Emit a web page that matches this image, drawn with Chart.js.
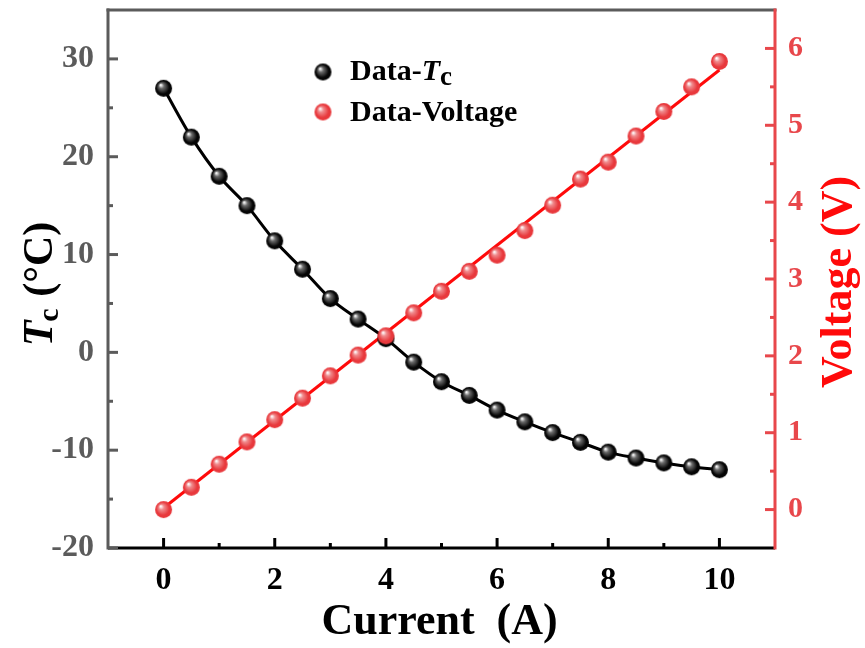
<!DOCTYPE html>
<html>
<head>
<meta charset="utf-8">
<script src="https://cdn.jsdelivr.net/npm/chart.js@4.4.1/dist/chart.umd.min.js"></script>
<style>
html,body{margin:0;padding:0;background:#fff;}
#wrap{width:865px;height:648px;}
</style>
</head>
<body>
<div id="wrap"><canvas id="c" width="865" height="648"></canvas></div>
<script>
// ---- data ----
const current = [0, 0.5, 1, 1.5, 2, 2.5, 3, 3.5, 4, 4.5, 5, 5.5, 6, 6.5, 7, 7.5, 8, 8.5, 9, 9.5, 10];
const tc = [27, 22, 18, 15, 11.4, 8.5, 5.5, 3.4, 1.4, -1.0, -3.0, -4.4, -5.9, -7.1, -8.2, -9.2, -10.2, -10.8, -11.3, -11.7, -12.0];
const voltage = [0, 0.29, 0.59, 0.88, 1.17, 1.45, 1.74, 2.01, 2.26, 2.56, 2.84, 3.10, 3.31, 3.63, 3.96, 4.30, 4.52, 4.86, 5.18, 5.50, 5.83];
const fitCurrent = [0, 10];
const fitVoltage = [0.02, 5.72];
const xTicks = [0, 2, 4, 6, 8, 10];
const tcTicks = [-20, -10, 0, 10, 20, 30];
const vTicks = [0, 1, 2, 3, 4, 5, 6];

const GRAY = '#5b5b5b';
const AXRED = '#e8474b';
const RED = '#ff0a0a';
const SERIF = "'Liberation Serif','Times New Roman',serif";

function sphere(base, mid, hi, r) {
  const s = Math.ceil(r * 2 + 2);
  const cv = document.createElement('canvas');
  cv.width = s; cv.height = s;
  const g = cv.getContext('2d');
  const c = s / 2;
  const grad = g.createRadialGradient(c - r * 0.35, c - r * 0.4, r * 0.05, c, c, r);
  grad.addColorStop(0, hi);
  grad.addColorStop(0.28, mid);
  grad.addColorStop(0.75, base);
  grad.addColorStop(1, base);
  g.fillStyle = grad;
  g.beginPath(); g.arc(c, c, r, 0, Math.PI * 2); g.fill();
  return cv;
}
const blackBall = sphere('#050505', '#6a6a6a', '#ffffff', 8.5);
const redBall = sphere('#e8383c', '#f08a8c', '#ffffff', 8.5);

const pts = (xs, ys) => xs.map((x, i) => ({x: x, y: ys[i]}));

const frame = {
  id: 'frame',
  beforeDatasetsDraw(chart) {
    const {ctx, chartArea: a, scales} = chart;
    ctx.save();
    ctx.lineCap = 'butt';
    const ln = (x1, y1, x2, y2, col, w) => {
      ctx.strokeStyle = col; ctx.lineWidth = w;
      ctx.beginPath(); ctx.moveTo(x1, y1); ctx.lineTo(x2, y2); ctx.stroke();
    };
    ln(a.left - 1.5, a.top, a.right + 1.5, a.top, GRAY, 3);
    ln(a.left, a.bottom, a.right, a.bottom, '#000', 3);
    ln(a.right, a.top - 1.5, a.right, a.bottom + 1.5, AXRED, 3);
    ln(a.left, a.top - 1.5, a.left, a.bottom + 1.5, GRAY, 3);
    xTicks.forEach((v, i) => {
      const p = scales.x.getPixelForValue(v);
      ln(p, a.bottom, p, a.bottom - 10, '#000', 3);
      if (i < xTicks.length - 1) {
        const m = scales.x.getPixelForValue((v + xTicks[i + 1]) / 2);
        ln(m, a.bottom, m, a.bottom - 5, '#000', 3);
      }
    });
    tcTicks.forEach((v, i) => {
      const p = scales.y.getPixelForValue(v);
      ln(a.left, p, a.left + 10, p, GRAY, 3);
      if (i < tcTicks.length - 1) {
        const m = scales.y.getPixelForValue((v + tcTicks[i + 1]) / 2);
        ln(a.left, m, a.left + 5, m, GRAY, 3);
      }
    });
    vTicks.forEach((v, i) => {
      const p = scales.y2.getPixelForValue(v);
      ln(a.right, p, a.right - 10, p, AXRED, 3);
      if (i < vTicks.length - 1) {
        const m = scales.y2.getPixelForValue((v + vTicks[i + 1]) / 2);
        ln(a.right, m, a.right - 5, m, AXRED, 3);
      }
    });
    ctx.restore();
  },
  afterDraw(chart) {
    const {ctx, chartArea: a} = chart;
    ctx.save();
    ctx.fillStyle = '#000';
    ctx.font = 'bold 44px ' + SERIF;
    ctx.textAlign = 'center';
    ctx.textBaseline = 'alphabetic';
    ctx.fillText('Current  (A)', (a.left + a.right) / 2 - 2, 634);

    ctx.save();
    ctx.translate(52, 284);
    ctx.rotate(-Math.PI / 2);
    ctx.textAlign = 'left';
    const fT = 'italic bold 42px ' + SERIF;
    const fc = 'bold 30px ' + SERIF;
    const fr = 'bold 42px ' + SERIF;
    ctx.font = fT; const wT = ctx.measureText('T').width;
    ctx.font = fc; const wc = ctx.measureText('c').width;
    ctx.font = fr; const wr = ctx.measureText(' (\u00B0C)').width;
    let x0 = -(wT + wc + wr) / 2;
    ctx.fillStyle = '#000';
    ctx.font = fT; ctx.fillText('T', x0, 0); x0 += wT - 1;
    ctx.font = fc; ctx.fillText('c', x0, 6); x0 += wc + 1;
    ctx.font = fr; ctx.fillText(' (\u00B0C)', x0, 0);
    ctx.restore();

    ctx.save();
    ctx.translate(851, 282);
    ctx.rotate(-Math.PI / 2);
    ctx.textAlign = 'center';
    ctx.fillStyle = RED;
    ctx.font = 'bold 44px ' + SERIF;
    ctx.fillText('Voltage (V)', 0, 0);
    ctx.restore();

    ctx.drawImage(blackBall, 323 - blackBall.width / 2, 72 - blackBall.height / 2);
    ctx.drawImage(redBall, 323 - redBall.width / 2, 112 - redBall.height / 2);
    ctx.fillStyle = '#000';
    ctx.textAlign = 'left';
    const lf = 'bold 30px ' + SERIF;
    ctx.font = lf;
    ctx.fillText('Data-', 350, 80);
    let lx = 350 + ctx.measureText('Data-').width;
    ctx.font = 'italic bold 30px ' + SERIF;
    ctx.fillText('T', lx, 80);
    lx += ctx.measureText('T').width;
    ctx.font = 'bold 27px ' + SERIF;
    ctx.fillText('c', lx, 85);
    ctx.font = lf;
    ctx.fillText('Data-Voltage', 350, 121);
    ctx.restore();
  }
};

const zeroPad = s => { s.paddingTop = 0; s.paddingBottom = 0; s.paddingLeft = 0; s.paddingRight = 0; };

new Chart(document.getElementById('c'), {
  data: {
    datasets: [
      {type: 'scatter', label: 'Data-Voltage', data: pts(current, voltage), yAxisID: 'y2',
        pointStyle: redBall, pointRadius: 8.5, pointHoverRadius: 8.5, showLine: false},
      {type: 'scatter', label: 'Data-Tc', data: pts(current, tc), yAxisID: 'y',
        pointStyle: blackBall, pointRadius: 8.5, pointHoverRadius: 8.5, showLine: false},
      {type: 'line', label: 'fitV', data: pts(fitCurrent, fitVoltage), yAxisID: 'y2',
        borderColor: RED, borderWidth: 3, pointRadius: 0, fill: false},
      {type: 'line', label: 'fitTc', data: pts(current, tc), yAxisID: 'y',
        borderColor: '#000', borderWidth: 3, pointRadius: 0, fill: false,
        cubicInterpolationMode: 'monotone'}
    ]
  },
  options: {
    responsive: false,
    animation: false,
    layout: {autoPadding: false, padding: {top: 10, left: 0, right: 0, bottom: 0}},
    plugins: {legend: {display: false}, tooltip: {enabled: false}, title: {display: false}},
    scales: {
      x: {
        type: 'linear', position: 'bottom', min: -1, max: 11,
        grid: {display: false, drawTicks: false}, border: {display: false},
        afterBuildTicks: s => { s.ticks = xTicks.map(v => ({value: v})); },
        afterFit: s => { s.height = 100; zeroPad(s); },
        ticks: {color: '#000', font: {family: SERIF, size: 32, weight: 'bold'}, padding: 14, maxRotation: 0}
      },
      y: {
        type: 'linear', position: 'left', min: -20, max: 35,
        grid: {display: false, drawTicks: false}, border: {display: false},
        afterBuildTicks: s => { s.ticks = tcTicks.map(v => ({value: v})); },
        afterFit: s => { s.width = 108; zeroPad(s); },
        ticks: {color: GRAY, font: {family: SERIF, size: 32, weight: 'bold'}, padding: 14}
      },
      y2: {
        type: 'linear', position: 'right', min: -0.5, max: 6.5,
        grid: {display: false, drawTicks: false}, border: {display: false},
        afterBuildTicks: s => { s.ticks = vTicks.map(v => ({value: v})); },
        afterFit: s => { s.width = 90; zeroPad(s); },
        ticks: {color: AXRED, font: {family: SERIF, size: 30, weight: 'bold'}, padding: 13}
      }
    }
  },
  plugins: [frame]
});
</script>
</body>
</html>
